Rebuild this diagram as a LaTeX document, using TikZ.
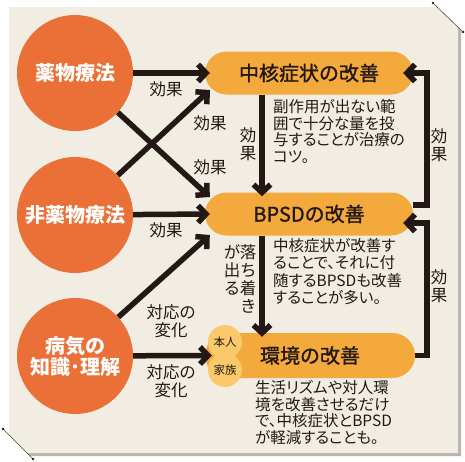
\documentclass[tikz,border=0pt]{standalone}
\usepackage{fontspec}
\setmainfont{Noto Sans CJK JP}
\newfontfamily\notefont[RawFeature=+palt]{Noto Sans CJK JP}
\newfontfamily\medfont[FakeBold=1.3]{Noto Sans CJK JP}
\usetikzlibrary{arrows.meta,shapes.misc}
\definecolor{paper}{HTML}{F2EDE3}
\definecolor{fold}{HTML}{B9B4AC}
\definecolor{causeorange}{HTML}{EA7037}
\definecolor{goalorange}{HTML}{F3A93B}
\definecolor{whoyellow}{HTML}{F9C96B}
\definecolor{ink}{HTML}{231815}

\begin{document}
\begin{tikzpicture}[x=1pt,y=-1pt]
\useasboundingbox (0,0) rectangle (465,461);
\fill[fold] (12,10) -- (440,10) -- (461,31) -- (461,456) -- (30,456) -- (12,438) -- cycle;
\fill[paper] (9,7) -- (437,7) -- (458,28) -- (458,453) -- (27,453) -- (9,435) -- cycle;
\draw[gray!60!black,line width=.6pt] (433,3) -- (463,32) (3,429) -- (33,459);
\fill[ink] (433,3) circle (1.4) (463,32) circle (1.4) (3,429) circle (1.4) (33,459) circle (1.4);
\tikzstyle{every node}=[text=ink,inner sep=0pt];
\tikzstyle{cause}=[circle,fill=causeorange,minimum size=116pt,text=white,font=\bfseries\fontsize{20}{21}\selectfont,align=center];
\tikzstyle{goal}=[rounded rectangle,fill=goalorange,minimum width=208pt,minimum height=43pt,font=\medfont\fontsize{20}{22}\selectfont];
\tikzstyle{who}=[circle,fill=whoyellow,minimum size=34pt,font=\fontsize{11.5}{12}\selectfont];
\tikzstyle{lbl}=[font=\notefont\fontsize{16.5}{18}\selectfont,align=center];
\tikzstyle{note}=[font=\notefont\fontsize{15.5}{16.7}\selectfont,align=left,anchor=north west];
\tikzstyle{arr}=[draw=ink,line width=5.5pt,-{Straight Barb[length=8pt,width=17pt]}];
\node[cause] (drug) at (75,73) {薬物療法};
\node[cause] (nondrug) at (75,215) {非薬物療法};
\node[cause] (know) at (75,356) {病気の\\知識･理解};
\node[goal] (core) at (309,73) {中核症状の改善};
\node[goal] (bpsd) at (309,214) {BPSDの改善};
\node[goal,minimum width=210pt,minimum height=45pt] (env) at (310,355.5) {環境の改善};
\node[who] (self) at (225,342) {本人};
\node[who] (family) at (225,370) {家族};
\draw[arr] (drug) -- ([xshift=5pt]core.west);
\draw[arr] (drug) -- ([shift={(5,-17)}]bpsd.west);
\draw[arr] (nondrug) -- ([shift={(5,17)}]core.west);
\draw[arr] (nondrug) -- ([xshift=5pt]bpsd.west);
\draw[arr] (know) -- ([shift={(5,21)}]bpsd.west);
\draw[arr] (know) -- ([xshift=7pt]env.west);
\draw[arr] ([xshift=-47pt]core.south) -- ([shift={(-47,4)}]bpsd.north);
\draw[arr] ([xshift=-47pt]bpsd.south) -- ([shift={(-48,4)}]env.north);
\draw[arr] ([shift={(0,-9)}]bpsd.east) -- ++(14,0) |- ([xshift=-10pt]core.east);
\draw[arr] (env.east) -- ++(12,0) |- ([shift={(-10,9)}]bpsd.east);
\node[lbl] (l1) at (166,89) {効果};
\node[lbl] (l2) at (210,123) {効果};
\node[lbl] (l3) at (210,167) {効果};
\node[lbl] (l4) at (166,230) {効果};
\node[lbl] (l5) at (171,321) {対応の\\変化};
\node[lbl] (l6) at (171,381) {対応の\\変化};
\node[lbl] (l7) at (248,144) {効\\果};
\node[lbl,anchor=north] (l8) at (248,244) {落\\ち\\着\\き};
\node[lbl,anchor=north] (l9) at (232,244) {が\\出\\る};
\node[lbl] (l10) at (439,145) {効\\果};
\node[lbl] (l11) at (439,286.5) {効\\果};
\node[note] (n1) at (273,99) {副作用が出ない範\\囲で十分な量を投\\与することが治療の\\コツ。};
\node[note,font=\notefont\fontsize{15.5}{17.5}\selectfont] (n2) at (273,238) {中核症状が改善す\\ることで、それに付\\随するBPSDも改善\\することが多い。};
\node[note] (n3) at (255,380) {生活リズムや対人環\\境を改善させるだけ\\で、中核症状とBPSD\\が軽減することも。};
\end{tikzpicture}
\end{document}
